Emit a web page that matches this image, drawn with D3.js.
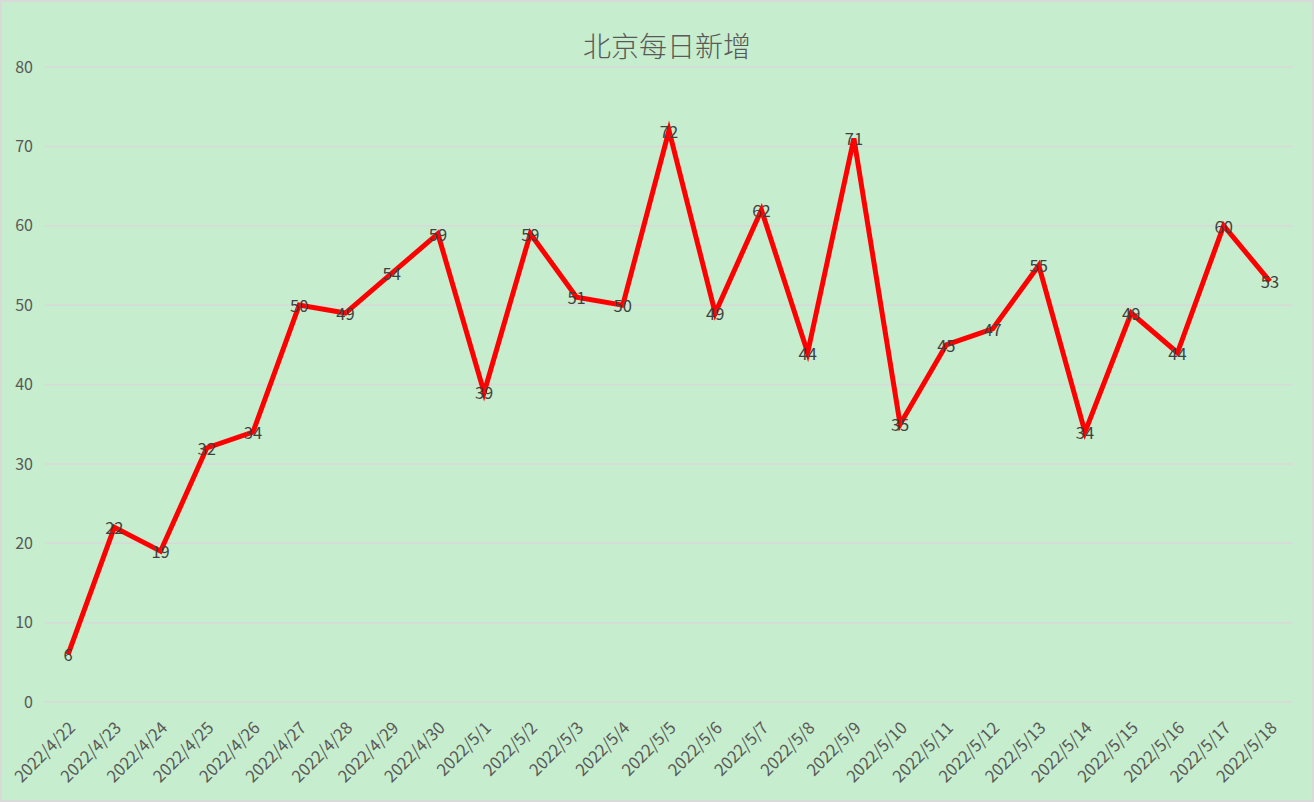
<!DOCTYPE html>
<html lang="zh">
<head>
<meta charset="UTF-8">
<title>北京每日新增</title>
<style>
    * { margin: 0; padding: 0; }
    body { background: #fff; }
    text { font-family: "Noto Sans CJK SC", "DejaVu Sans", sans-serif; }
</style>
</head>
<body>
<svg></svg>
<script src="https://cdn.jsdelivr.net/npm/d3@7/dist/d3.min.js"></script>
<script>
    // 日期
    const dates = ['2022/4/22', '2022/4/23', '2022/4/24', '2022/4/25', '2022/4/26', '2022/4/27', '2022/4/28',
        '2022/4/29', '2022/4/30', '2022/5/1', '2022/5/2', '2022/5/3', '2022/5/4', '2022/5/5', '2022/5/6',
        '2022/5/7', '2022/5/8', '2022/5/9', '2022/5/10', '2022/5/11', '2022/5/12', '2022/5/13', '2022/5/14',
        '2022/5/15', '2022/5/16', '2022/5/17', '2022/5/18']
    // 每日新增
    const counts = [6, 22, 19, 32, 34, 50, 49, 54, 59, 39, 59, 51, 50, 72, 49, 62, 44, 71, 35, 45, 47, 55, 34, 49, 44, 60, 53]
    const yTicks = [0, 10, 20, 30, 40, 50, 60, 70, 80]

    const W = 1314, H = 802
    const svg = d3.select('svg').attr('width', W).attr('height', H)

    // 背景和边框
    svg.append('rect').attr('x', 1).attr('y', 1).attr('width', W - 2).attr('height', H - 2)
        .attr('fill', '#C6EDCD').attr('stroke', '#D9D9D9').attr('stroke-width', 2)

    const plotLeft = 45, plotRight = 1293, plotTop = 67, plotBottom = 702

    const x = d3.scaleBand().domain(dates).range([plotLeft, plotRight])
    const y = d3.scaleLinear().domain([0, 80]).range([plotBottom, plotTop])

    // 网格线
    svg.append('g').selectAll('line').data(yTicks).join('line')
        .attr('x1', plotLeft).attr('x2', plotRight)
        .attr('y1', d => y(d)).attr('y2', d => y(d))
        .attr('stroke', '#D9D9D9').attr('stroke-width', 1.5)

    // y轴
    const yAxis = svg.append('g').attr('transform', `translate(${plotLeft},0)`)
        .call(d3.axisLeft(y).tickValues(yTicks).tickSize(0).tickPadding(12))
    yAxis.select('.domain').remove()
    yAxis.selectAll('text').attr('font-size', 16).attr('fill', '#595959')

    // x轴
    const xAxis = svg.append('g').attr('transform', `translate(0,${plotBottom})`)
        .call(d3.axisBottom(x).tickSize(0).tickPadding(0))
    xAxis.select('.domain').remove()
    xAxis.selectAll('text')
        .attr('font-size', 16.5).attr('fill', '#595959')
        .attr('text-anchor', 'end').attr('dy', 0)
        .attr('transform', 'translate(8,27) rotate(-45)')

    // 折线
    const cx = d => x(d) + x.bandwidth() / 2
    const line = d3.line().x((d, i) => cx(dates[i])).y(d => y(d))
    svg.append('path').datum(counts)
        .attr('d', line).attr('fill', 'none')
        .attr('stroke', '#FF0000').attr('stroke-width', 5)
        .attr('stroke-linejoin', 'miter')

    // 数据标签
    svg.append('g').selectAll('text').data(counts).join('text')
        .attr('x', (d, i) => cx(dates[i]))
        .attr('y', d => y(d))
        .attr('text-anchor', 'middle')
        .attr('dominant-baseline', 'central')
        .attr('font-size', 16.5).attr('fill', '#404040')
        .text(d => d)

    // 标题
    svg.append('text').attr('x', 667).attr('y', 45)
        .attr('text-anchor', 'middle').attr('dominant-baseline', 'central')
        .attr('font-size', 28).attr('font-weight', 300).attr('fill', '#595959')
        .text('北京每日新增')
</script>
</body>
</html>
